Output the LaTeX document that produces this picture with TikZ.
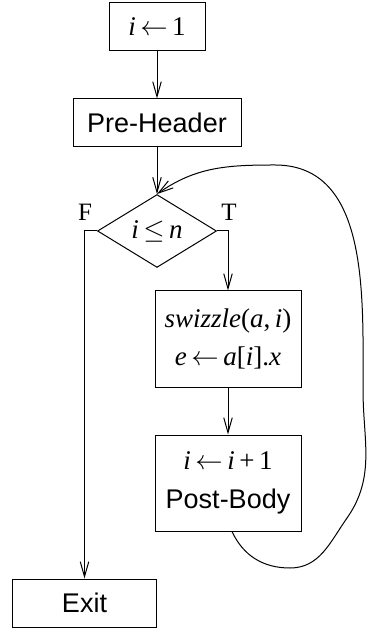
\documentclass[tikz,border=0pt]{standalone}
\usepackage{fontspec}
\setmainfont{Liberation Sans}
\newfontfamily\tms{Liberation Serif}
\usetikzlibrary{shapes.geometric,arrows.meta}
\newcommand{\mi}[1]{{\tms\itshape #1}}
\newcommand{\mr}[1]{{\tms #1}}
\newcommand{\la}{\,$\leftarrow$\,}
\begin{document}
\begin{tikzpicture}[x=0.4pt,y=-0.4pt,
  box/.style={draw,line width=0.4pt,inner sep=0pt,align=center,font=\fontsize{10.8}{12.5}\selectfont},
  arr/.style={-{Straight Barb[length=6pt,width=3.4pt]},line width=0.4pt},
  lab/.style={font=\tms\fontsize{10}{11}\selectfont}]
\useasboundingbox (0,0) rectangle (366,630);
\node[box,minimum width=38.4pt,minimum height=19.2pt] (init) at (157,27) {\mi{i}\la\mr{1}};
\node[box,minimum width=67.2pt,minimum height=19.2pt] (pre) at (157,123) {Pre-Header};
\node[box,shape=diamond,minimum width=47.6pt,minimum height=28.8pt] (dia) at (157,231) {\mi{i}\,$\leq$\,\mi{n}};
\node[box,minimum width=58.4pt,minimum height=38.4pt] (body) at (228,339) {\mi{swizzle}\mr{(}\mi{a}\mr{,}\,\mi{i}\mr{)}\\[3pt] \mi{e}\la\mi{a}\mr{[}\mi{i}\mr{].}\mi{x}};
\node[box,minimum width=58.4pt,minimum height=38.4pt] (post) at (228,483) {\mi{i}\la\mi{i}\,\mr{+}\,\mr{1}\\[3pt] Post-Body};
\node[box,minimum width=57.2pt,minimum height=19.2pt] (exit) at (84.5,603) {Exit};
\node[lab] (F) at (85,212) {F};
\node[lab] (T) at (229,212) {T};
\draw[arr] (init) -- (pre);
\draw[arr] (pre) -- (dia.north);
\draw[arr] (dia.west) -| (exit.north);
\draw[arr] (dia.east) -| (body.north);
\draw[arr] (body) -- (post);
\coordinate (ls) at ([xshift=1.6pt]post.south);
\coordinate (l1) at (290,568);
\coordinate (l2) at (347,518);
\coordinate (l3) at (363,390);
\coordinate (l4) at (275,165);
\draw[arr] (ls) to[out=-65,in=180] (l1) to[out=0,in=-125] (l2) to[out=55,in=-90] (l3) to[out=90,in=0] (l4) to[out=180,in=35] (dia.north);
\end{tikzpicture}
\end{document}
